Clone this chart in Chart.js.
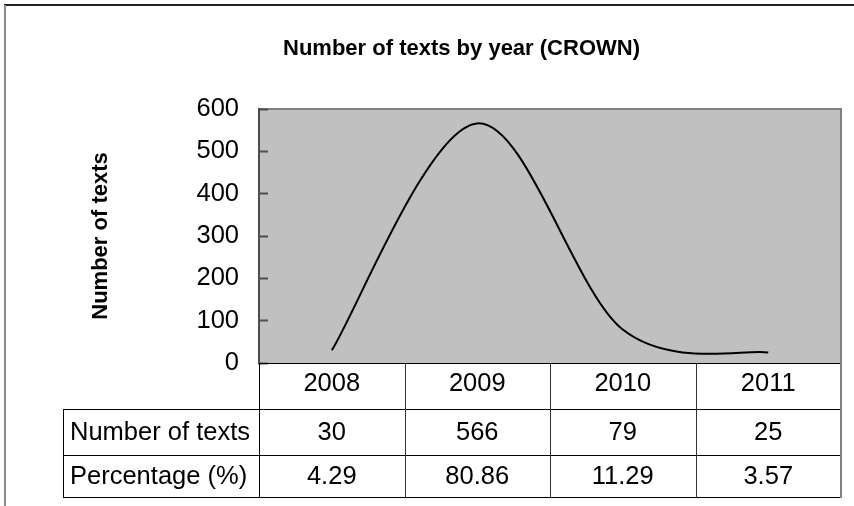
<!DOCTYPE html>
<html>
<head>
<meta charset="utf-8">
<script src="https://cdn.jsdelivr.net/npm/chart.js@4/dist/chart.umd.min.js"></script>
<style>
  html, body { margin: 0; padding: 0; background: #ffffff; }
  #wrap { width: 854px; height: 506px; position: relative; }
  canvas { display: block; }
</style>
</head>
<body>
<div id="wrap"><canvas id="chart" width="854" height="506"></canvas></div>
<script>
// Categories and series
const years = ['2008', '2009', '2010', '2011'];
const textCounts = [30, 566, 79, 25];
const percentages = ['4.29', '80.86', '11.29', '3.57'];
const tableRowLabels = ['Number of texts', 'Percentage (%)'];

// Value axis
const yMin = 0;
const yMax = 600;
const yStep = 100;

const FONT = "'Liberation Sans', Arial, sans-serif";
const TEXT_SIZE = 25.5;
const TITLE_SIZE = 22;

// Spreadsheet-style smoothing: each control point sits one sixth of the
// neighbour-to-neighbour vector away from its point.
const spreadsheetSmoothing = {
  id: 'spreadsheetSmoothing',
  beforeDatasetDraw(chart, args) {
    const meta = args.meta;
    const line = meta.dataset;
    if (!line) return;
    line.updateControlPoints(chart.chartArea, meta.iAxis);
    const pts = meta.data;
    for (let i = 0; i < pts.length; i++) {
      const p = pts[i];
      const prev = pts[i - 1] || p;
      const next = pts[i + 1] || p;
      const dx = (next.x - prev.x) / 6;
      const dy = (next.y - prev.y) / 6;
      p.cp1x = p.x - dx; p.cp1y = p.y - dy;
      p.cp2x = p.x + dx; p.cp2y = p.y + dy;
    }
    line._path = undefined;
  }
};

// Plot background, frame and the data table under the x axis
const frameAndTable = {
  id: 'frameAndTable',
  beforeDraw(chart) {
    const { ctx, chartArea: a, width, height } = chart;
    ctx.save();
    // outer frame (top and left edges)
    ctx.fillStyle = '#222222';
    ctx.fillRect(4, 4, width - 4, 2);
    ctx.fillStyle = '#8c8c8c';
    ctx.fillRect(4, 5, 2, height - 5);
    // plot area
    ctx.fillStyle = '#c0c0c0';
    ctx.fillRect(a.left, a.top, a.right - a.left, a.bottom - a.top);
    ctx.fillStyle = '#808080';
    ctx.fillRect(a.left, a.top - 1, a.right - a.left + 1, 2);
    ctx.fillRect(a.right - 1, a.top - 1, 2, a.bottom - a.top + 1);
    ctx.restore();
  },
  afterDraw(chart) {
    const { ctx, chartArea: a } = chart;
    const xs = chart.scales.x;
    const n = years.length;
    const colW = (xs.right - xs.left) / n;
    const edges = [];
    for (let i = 0; i <= n; i++) edges.push(Math.round(xs.left + i * colW));
    const tableLeft = 63;
    const rowTops = [Math.round(xs.bottom), Math.round(xs.bottom) + 46];
    const tableBottom = rowTops[1] + 42;

    ctx.save();
    ctx.fillStyle = '#000000';
    // horizontal rules
    ctx.fillRect(edges[0], Math.round(a.bottom), edges[n] - edges[0], 1);
    rowTops.forEach(y => ctx.fillRect(tableLeft, y, edges[n] - tableLeft, 1));
    ctx.fillRect(tableLeft, tableBottom, edges[n] - tableLeft, 1);
    // vertical rules
    ctx.fillRect(tableLeft, rowTops[0], 1, tableBottom - rowTops[0] + 1);
    for (let i = 0; i < n; i++) {
      ctx.fillStyle = i === 0 ? '#000000' : '#333333';
      ctx.fillRect(edges[i], Math.round(a.bottom), 1, tableBottom - a.bottom + 1);
    }
    ctx.fillStyle = '#808080';
    ctx.fillRect(edges[n] - 1, Math.round(a.bottom), 2, tableBottom - a.bottom + 1);

    // cell text
    ctx.fillStyle = '#000000';
    ctx.font = TEXT_SIZE + 'px ' + FONT;
    ctx.textBaseline = 'middle';
    const rowH = [46, 42];
    const rows = [textCounts.map(String), percentages];
    rows.forEach((vals, r) => {
      const cy = rowTops[r] + rowH[r] / 2 + 1;
      ctx.textAlign = 'left';
      ctx.fillText(tableRowLabels[r], 70, cy);
      ctx.textAlign = 'center';
      vals.forEach((v, i) => ctx.fillText(v, xs.getPixelForValue(i), cy));
    });
    ctx.restore();
  }
};

const leftPad = 82;
const plotLeft = 259;
const plotRight = 841;
const plotTop = 109;
const titleLine = TITLE_SIZE * 1.2;

new Chart(document.getElementById('chart'), {
  type: 'line',
  data: {
    labels: years,
    datasets: [{
      label: 'Number of texts',
      data: textCounts,
      borderColor: '#000000',
      borderWidth: 2,
      pointRadius: 0,
      fill: false,
      tension: 0.33
    }]
  },
  options: {
    responsive: false,
    animation: false,
    devicePixelRatio: 1,
    layout: { padding: { left: leftPad, right: 854 - plotRight, top: 0, bottom: 97 } },
    plugins: {
      legend: { display: false },
      tooltip: { enabled: false },
      title: {
        display: true,
        text: 'Number of texts by year (CROWN)',
        color: '#000000',
        font: { family: FONT, size: TITLE_SIZE, weight: 'bold' },
        padding: { top: 49 - titleLine / 2, bottom: plotTop - 49 - titleLine / 2 }
      }
    },
    scales: {
      x: {
        type: 'category',
        offset: true,
        grid: { display: false, drawTicks: false },
        border: { display: false },
        ticks: {
          color: '#000000',
          font: { family: FONT, size: TEXT_SIZE },
          padding: 6,
          maxRotation: 0,
          autoSkip: false
        },
        afterFit(scale) { scale.height = 46; }
      },
      y: {
        min: yMin,
        max: yMax,
        ticks: {
          stepSize: yStep,
          color: '#000000',
          font: { family: FONT, size: TEXT_SIZE },
          padding: 29
        },
        grid: {
          drawOnChartArea: false,
          drawTicks: true,
          tickLength: -9,
          tickColor: '#4d4d4d',
          tickWidth: 2
        },
        border: { display: true, color: '#4d4d4d', width: 2 },
        title: {
          display: true,
          text: 'Number of texts',
          color: '#000000',
          font: { family: FONT, size: 22, weight: 'bold' },
          padding: { top: 101 - leftPad - 13.2, bottom: 0 }
        },
        afterFit(scale) { scale.width = plotLeft - leftPad; }
      }
    }
  },
  plugins: [spreadsheetSmoothing, frameAndTable]
});
</script>
</body>
</html>
